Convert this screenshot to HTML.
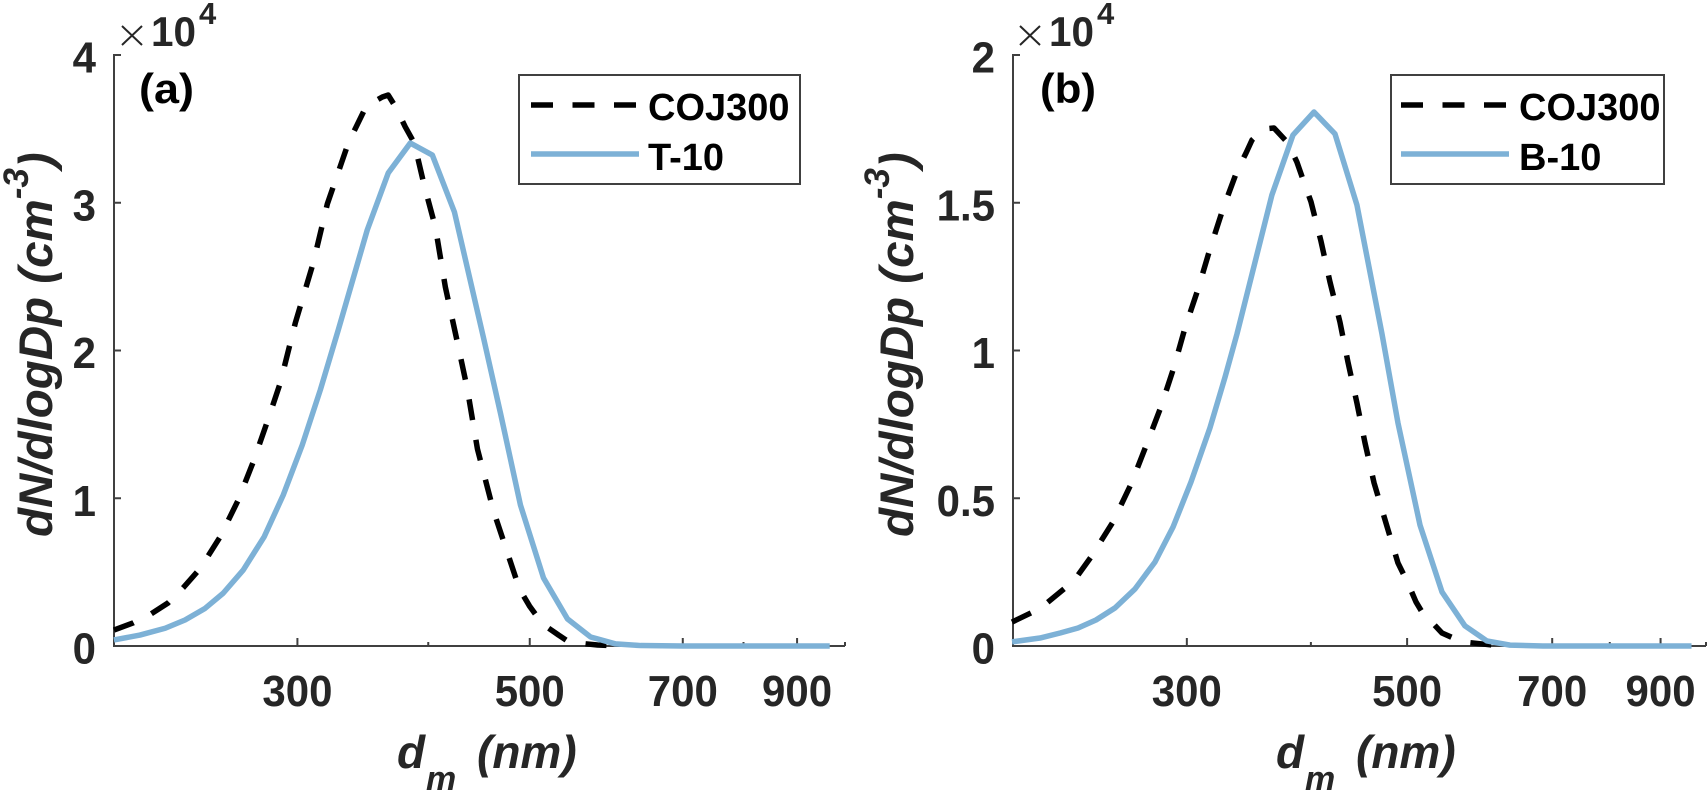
<!DOCTYPE html>
<html>
<head>
<meta charset="utf-8">
<title>dN/dlogDp size distributions</title>
<style>
html,body{margin:0;padding:0;background:#fff;}
svg{display:block;}
text{font-family:"Liberation Sans",Arial,sans-serif;}
.tick{font-weight:bold;font-size:44px;fill:#262626;}
.title{font-weight:bold;font-style:italic;font-size:47.5px;fill:#262626;}
.xtitle{font-weight:bold;font-style:italic;font-size:46px;fill:#262626;}
.sub{font-weight:bold;font-style:italic;font-size:34px;fill:#262626;}
.leg{font-weight:bold;font-size:38px;fill:#000;}
.tag{font-weight:bold;font-size:42px;fill:#000;}
.exp{font-weight:bold;font-size:42px;fill:#262626;}
.exps{font-weight:bold;font-size:31px;fill:#262626;}
</style>
</head>
<body>
<svg id="chart" xmlns="http://www.w3.org/2000/svg" width="1708" height="792" viewBox="0 0 1708 792">
  <rect x="0" y="0" width="1708" height="792" fill="#ffffff"/>

  <g id="panel-a">
    <g id="panel-a-axes"></g>
    <g id="panel-a-series"></g>
    <text class="tag" x="139" y="103" textLength="55" lengthAdjust="spacingAndGlyphs">(a)</text>
    <g>
      <path d="M122 26 L142 45 M142 26 L122 45" stroke="#262626" stroke-width="2" fill="none"/>
      <text class="exp" x="151" y="46" textLength="45" lengthAdjust="spacingAndGlyphs">10</text>
      <text class="exps" x="199" y="24">4</text>
    </g>
    <text class="title" transform="translate(52,537) rotate(-90)" x="0" y="0">dN/dlogDp (cm<tspan dy="-24" font-size="35">-3</tspan><tspan dy="24">)</tspan></text>
    <g>
      <text class="xtitle" x="397" y="768">d</text>
      <text class="sub" x="426" y="790">m</text>
      <text class="xtitle" x="477" y="768">(nm)</text>
    </g>
    <g>
      <rect x="519" y="75" width="281" height="109" fill="#fff" stroke="#404040" stroke-width="2"/>
      <line x1="531" x2="636" y1="105" y2="105" stroke="#000" stroke-width="5.5" stroke-dasharray="22 19.5"/>
      <line x1="531" x2="639" y1="154" y2="154" stroke="#7DB1D6" stroke-width="5.5"/>
      <text class="leg" x="648" y="120">COJ300</text>
      <text class="leg" x="648" y="170">T-10</text>
    </g>
  </g>

  <g id="panel-b">
    <g id="panel-b-axes"></g>
    <g id="panel-b-series"></g>
    <text class="tag" x="1040" y="103" textLength="56" lengthAdjust="spacingAndGlyphs">(b)</text>
    <g>
      <path d="M1020 26 L1040 45 M1040 26 L1020 45" stroke="#262626" stroke-width="2" fill="none"/>
      <text class="exp" x="1049" y="46" textLength="45" lengthAdjust="spacingAndGlyphs">10</text>
      <text class="exps" x="1097" y="24">4</text>
    </g>
    <text class="title" transform="translate(913,537) rotate(-90)" x="0" y="0">dN/dlogDp (cm<tspan dy="-24" font-size="35">-3</tspan><tspan dy="24">)</tspan></text>
    <g>
      <text class="xtitle" x="1276" y="768">d</text>
      <text class="sub" x="1305" y="790">m</text>
      <text class="xtitle" x="1356" y="768">(nm)</text>
    </g>
    <g>
      <rect x="1391" y="75" width="273" height="109" fill="#fff" stroke="#404040" stroke-width="2"/>
      <line x1="1401" x2="1506" y1="105" y2="105" stroke="#000" stroke-width="5.5" stroke-dasharray="22 19.5"/>
      <line x1="1401" x2="1509" y1="154" y2="154" stroke="#7DB1D6" stroke-width="5.5"/>
      <text class="leg" x="1519" y="120">COJ300</text>
      <text class="leg" x="1519" y="170">B-10</text>
    </g>
  </g>
</svg>

<script>
const xMajorTicks = [300, 500, 700, 900];
const xMinorTicks = [400, 600, 800, 1000];
const yTicksA = [0, 1, 2, 3, 4];
const yTickLabelsA = ["0", "1", "2", "3", "4"];
const yTicksB = [0, 0.5, 1, 1.5, 2];
const yTickLabelsB = ["0", "0.5", "1", "1.5", "2"];

const cojDiametersA = [200.4,209.0,217.4,225.7,233.3,240.6,246.5,253.1,263.4,272.2,280.7,288.9,298.6,310.6,320.4,335.5,349.1,361.6,366.3,372.8,380.3,387.9,396.6,406.3,415.3,427.4,435.9,445.7,461.7,475.1,488.8,499.7,514.3,532.7,543.3,555.4,580.4,607.9];
const cojValuesA = [0.108,0.156,0.217,0.291,0.393,0.501,0.609,0.738,0.988,1.245,1.516,1.780,2.186,2.592,2.992,3.404,3.655,3.716,3.729,3.641,3.513,3.404,3.113,2.836,2.430,2.024,1.739,1.333,0.914,0.650,0.386,0.271,0.149,0.074,0.034,0.020,0.007,0];

const t10Diameters = [200.4,212.2,224.3,234.3,244.9,254.8,266.3,278.9,290.8,303.2,315.5,328.2,349.8,366.3,384.5,403.6,423.7,451.7,468.8,489.9,515.4,543.3,571.6,603.9,638.1,700,800,967];
const t10Values = [0.041,0.074,0.120,0.176,0.255,0.357,0.514,0.740,1.022,1.360,1.733,2.139,2.816,3.201,3.404,3.323,2.937,2.085,1.577,0.954,0.460,0.183,0.061,0.014,0.003,0,0,0];

const cojDiametersB = [200,209.0,216.9,226.2,233.1,240.2,252.8,263.6,272.9,282.5,291.2,298.7,307.9,316.5,326.2,337.0,344.1,348.9,353.0,359.6,367.2,379.3,387.2,393.6,400.1,409.4,418.1,427.9,435.9,445.1,453.5,463.1,476.1,489.5,500.9,510.4,517.6,524.8,542.1,567.8,594.8,624.4];
const cojValuesB = [0.081,0.112,0.146,0.196,0.240,0.301,0.420,0.548,0.677,0.809,0.944,1.076,1.208,1.343,1.479,1.607,1.668,1.712,1.729,1.750,1.753,1.702,1.638,1.570,1.503,1.371,1.232,1.096,0.961,0.822,0.687,0.552,0.416,0.281,0.213,0.149,0.115,0.095,0.044,0.014,0.007,0];

const b10Diameters = [200,213.4,223.6,233.1,243.0,254.0,266.0,278.6,290.6,302.9,316.5,327.8,337.0,365.4,383.7,402.9,423.0,445.1,471.7,489.5,515.2,542.1,571.8,601.7,634.7,685.1,800,967];
const b10Values = [0.014,0.027,0.044,0.061,0.088,0.129,0.193,0.284,0.403,0.555,0.738,0.910,1.056,1.526,1.729,1.807,1.733,1.492,1.056,0.755,0.409,0.183,0.068,0.017,0.003,0,0,0];

const SVGNS = "http://www.w3.org/2000/svg";
const X_MIN = 200, X_MAX = 1000;
const AXIS_TOP = 55, AXIS_BOTTOM = 646;

function makeXScale(left, right) {
  return function (d) {
    return left + Math.log10(d / X_MIN) / Math.log10(X_MAX / X_MIN) * (right - left);
  };
}
function makeYScale(yMax) {
  return function (v) {
    return AXIS_BOTTOM - v / yMax * (AXIS_BOTTOM - AXIS_TOP);
  };
}
function segment(parent, x1, y1, x2, y2) {
  const el = document.createElementNS(SVGNS, "line");
  el.setAttribute("x1", x1);
  el.setAttribute("y1", y1);
  el.setAttribute("x2", x2);
  el.setAttribute("y2", y2);
  el.setAttribute("stroke", "#404040");
  el.setAttribute("stroke-width", "2");
  parent.appendChild(el);
  return el;
}
function labelWidth(str) {
  let w = 0;
  for (const ch of str) {
    w += (ch === "." ? 0.278 : 0.556) * 42;
  }
  return w;
}
function label(parent, x, y, anchor, str) {
  const el = document.createElementNS(SVGNS, "text");
  el.setAttribute("class", "tick");
  el.setAttribute("x", x);
  el.setAttribute("y", y);
  el.setAttribute("text-anchor", anchor);
  el.setAttribute("textLength", labelWidth(str));
  el.setAttribute("lengthAdjust", "spacingAndGlyphs");
  el.textContent = str;
  parent.appendChild(el);
  return el;
}
function drawAxes(parent, left, right, sy, yTicks, yLabels) {
  const sx = makeXScale(left, right);
  const xAxis = segment(parent, left, AXIS_BOTTOM, right, AXIS_BOTTOM);
  
  
  const yAxis = segment(parent, left + 1, AXIS_TOP - 1, left + 1, AXIS_BOTTOM);
  
  
  xMajorTicks.forEach(function (t) {
    const mark = segment(parent, sx(t), AXIS_BOTTOM, sx(t), AXIS_BOTTOM - 8);
    
    
    const txt = label(parent, sx(t), 706, "middle", String(t));
    
    
  });
  xMinorTicks.forEach(function (t) {
    const mark = segment(parent, sx(t), AXIS_BOTTOM, sx(t), AXIS_BOTTOM - 4);
    
    
  });
  yTicks.forEach(function (t, i) {
    const mark = segment(parent, left + 1, sy(t), left + 8, sy(t));
    
    
    const txt = label(parent, left - 17, sy(t) + 17.5, "end", yLabels[i]);
    
    
  });
}
function drawSeries(parent, sx, sy, xs, ys, color, width, dash) {
  const el = document.createElementNS(SVGNS, "polyline");
  const pts = xs.map(function (d, i) {
    return sx(d).toFixed(2) + "," + sy(ys[i]).toFixed(2);
  });
  el.setAttribute("points", pts.join(" "));
  el.setAttribute("fill", "none");
  el.setAttribute("stroke", color);
  el.setAttribute("stroke-width", width);
  el.setAttribute("stroke-linejoin", "round");
  if (dash) {
    el.setAttribute("stroke-dasharray", dash);
  }
  parent.appendChild(el);
  return el;
}

const sxA = makeXScale(113, 845);
const syA = makeYScale(4);
const sxB = makeXScale(1012, 1706);
const syB = makeYScale(2);

drawAxes(document.getElementById("panel-a-axes"), 113, 845, syA, yTicksA, yTickLabelsA);
drawAxes(document.getElementById("panel-b-axes"), 1012, 1706, syB, yTicksB, yTickLabelsB);

const lineCojA = drawSeries(document.getElementById("panel-a-series"), sxA, syA, cojDiametersA, cojValuesA, "#000000", 5.5, "21 20");


const lineT10 = drawSeries(document.getElementById("panel-a-series"), sxA, syA, t10Diameters, t10Values, "#7DB1D6", 5.5, null);


const lineCojB = drawSeries(document.getElementById("panel-b-series"), sxB, syB, cojDiametersB, cojValuesB, "#000000", 5.5, "21 20");


const lineB10 = drawSeries(document.getElementById("panel-b-series"), sxB, syB, b10Diameters, b10Values, "#7DB1D6", 5.5, null);


</script>
</body>
</html>
